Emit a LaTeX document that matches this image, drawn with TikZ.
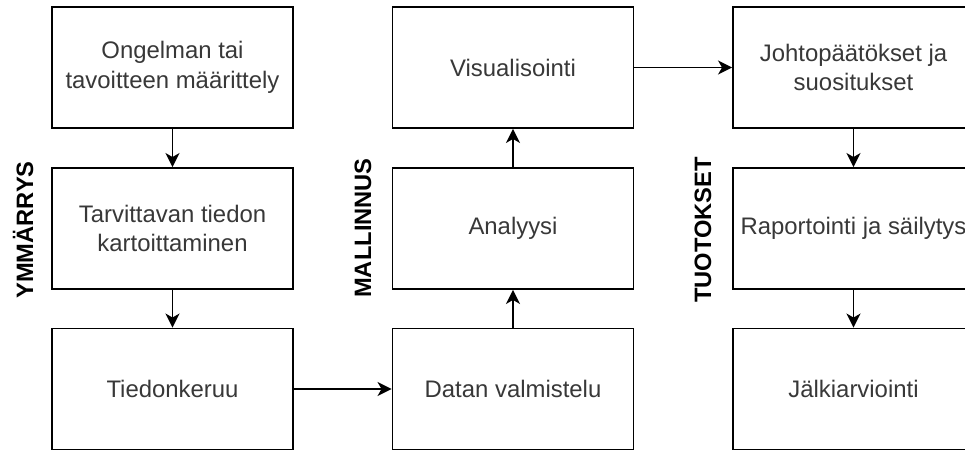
\documentclass[tikz,border=0pt]{standalone}
\usepackage{fontspec}
\setmainfont{Liberation Sans}
\usetikzlibrary{arrows.meta}
\definecolor{txt}{gray}{0.22}
\tikzset{
  stepbox/.style={draw=black, line width=1.9pt, fill=white, minimum width=241pt,
    minimum height=121pt, inner sep=0pt, align=center, text=txt,
    font=\fontsize{23.9}{29.5}\selectfont},
  phase/.style={rotate=90, font=\fontsize{23.7}{28}\selectfont\bfseries, inner sep=0pt},
  flow/.style={line width=1.9pt, -{Stealth[length=14pt,width=14pt,inset=4pt]}}
}
\begin{document}
\begin{tikzpicture}[x=1pt,y=-1pt]
\useasboundingbox (0,0) rectangle (965,450);
\clip (0,0) rectangle (965,450);
\fill[white] (0,0) rectangle (965,450);

% understanding column
\node[stepbox] (ongelma) at (172.5,67.5) {Ongelman tai\\tavoitteen määrittely};
\node[stepbox] (tarve) at (172.5,228.5) {Tarvittavan tiedon\\kartoittaminen};
\node[stepbox] (keruu) at (172.5,389) {Tiedonkeruu};

% modelling column
\node[stepbox] (valmistelu) at (513,389) {Datan valmistelu};
\node[stepbox] (analyysi) at (513,228.5) {Analyysi};
\node[stepbox] (visu) at (513,67.5) {Visualisointi};

% outputs column
\node[stepbox] (johto) at (853.5,67.5) {Johtopäätökset ja\\suositukset};
\node[stepbox] (raportti) at (853.5,228.5) {Raportointi ja säilytys};
\node[stepbox] (jalki) at (853.5,389) {Jälkiarviointi};

% phase labels
\node[phase] (p1) at (23,230) {YMMÄRRYS};
\node[phase] (p2) at (363,228) {MALLINNUS};
\node[phase] (p3) at (703,230) {TUOTOKSET};

% connectors
\draw[flow] (ongelma) -- (tarve);
\draw[flow] (tarve) -- (keruu);
\draw[flow] (keruu) -- (valmistelu);
\draw[flow] (valmistelu) -- (analyysi);
\draw[flow] (analyysi) -- (visu);
\draw[flow] (visu) -- (johto);
\draw[flow] (johto) -- (raportti);
\draw[flow] (raportti) -- (jalki);
\end{tikzpicture}
\end{document}
